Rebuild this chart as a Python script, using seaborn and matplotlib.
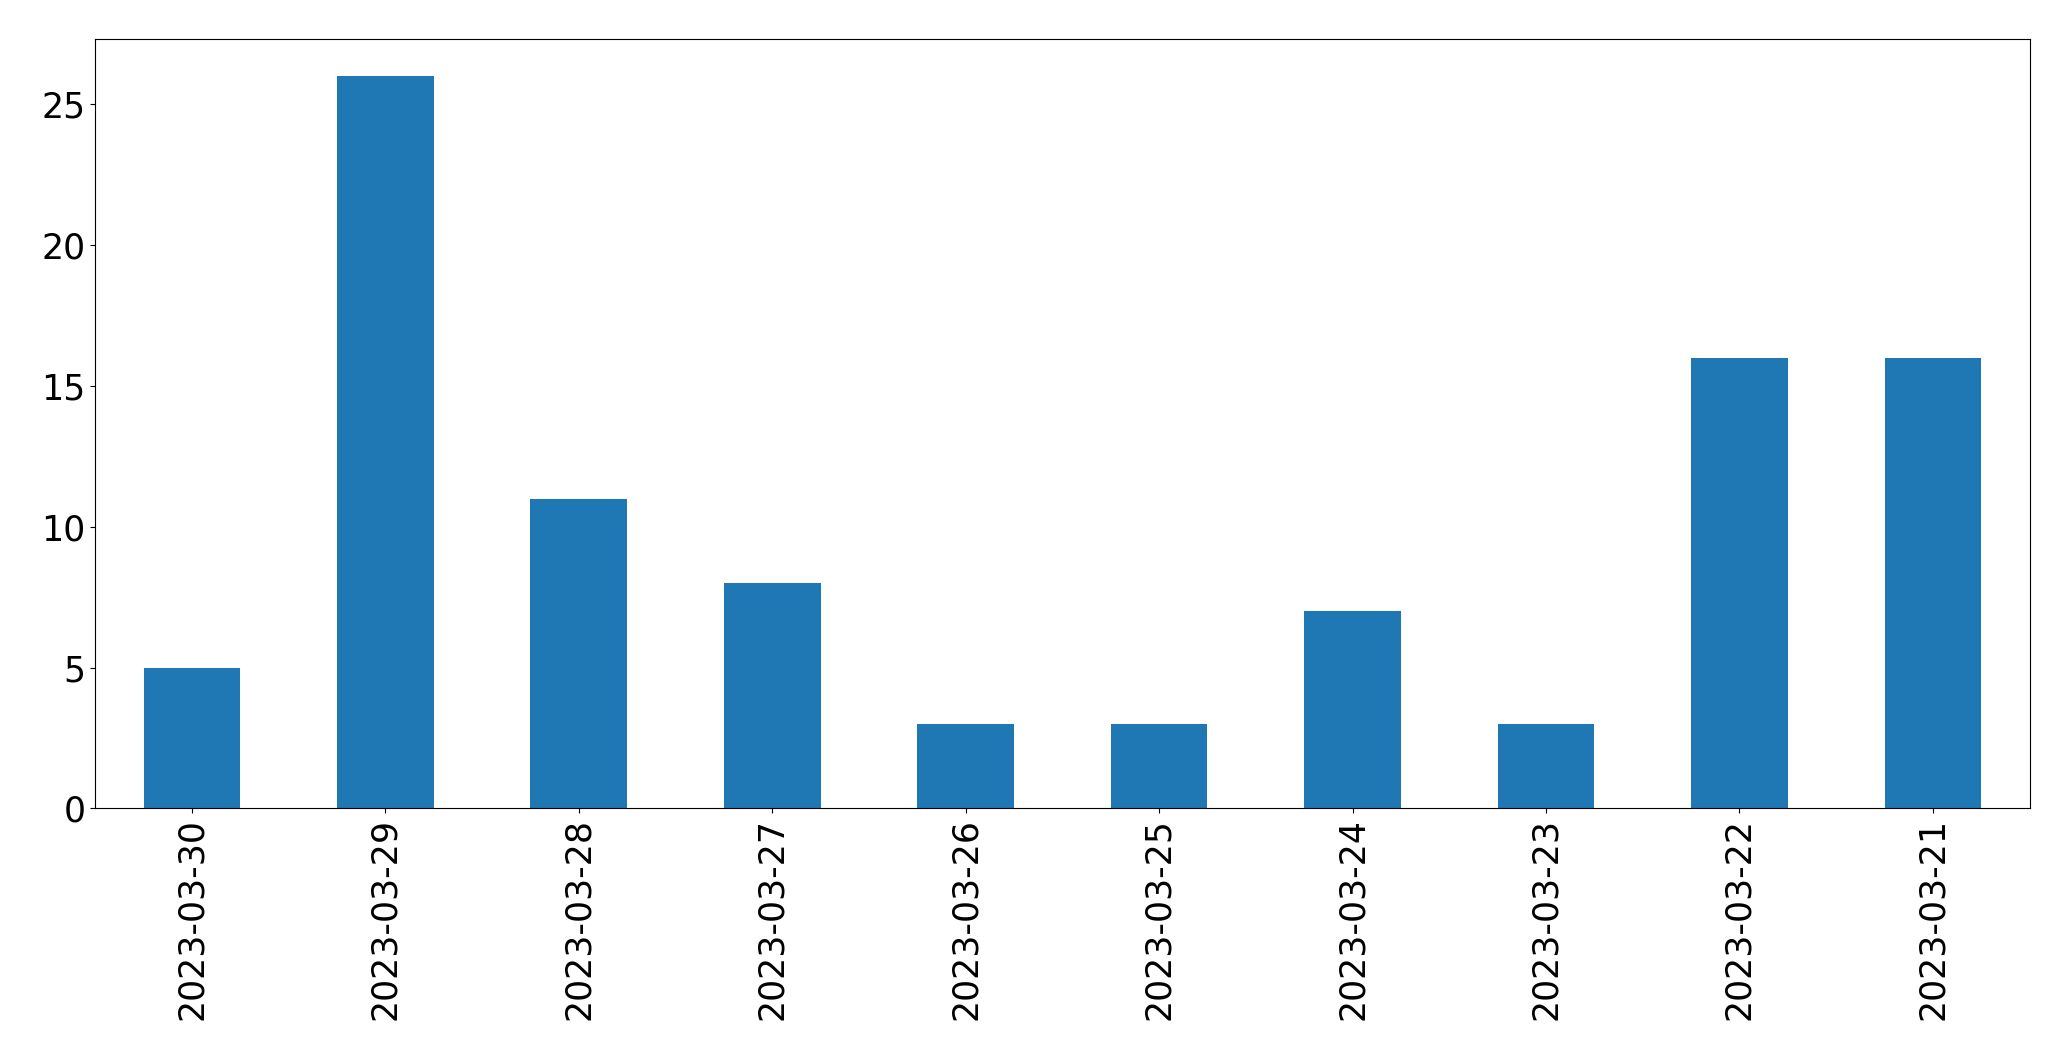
import matplotlib
matplotlib.use('Agg')
import matplotlib.pyplot as plt
import pandas as pd
import seaborn as sns

dates = ["2023-03-30", "2023-03-29", "2023-03-28", "2023-03-27", "2023-03-26",
         "2023-03-25", "2023-03-24", "2023-03-23", "2023-03-22", "2023-03-21"]
counts = [5, 26, 11, 8, 3, 3, 7, 3, 16, 16]

df = pd.DataFrame({"date": dates, "count": counts})

fig = plt.figure(figsize=(20.71, 10.61), dpi=100)
ax = fig.add_subplot(1, 1, 1)
sns.barplot(data=df, x="date", y="count", order=dates, color="#1f77b4",
            saturation=1, width=0.5, ax=ax)
ax.set_xlim(-0.5, len(dates) - 0.5)
ax.set_ylim(0, 27.3)
ax.set_xlabel("")
ax.set_ylabel("")
ax.tick_params(axis="both", labelsize=25)
ax.tick_params(axis="x", labelrotation=90)
fig.subplots_adjust(left=0.046, right=0.980, top=0.963, bottom=0.238)
plt.savefig("out.png")
